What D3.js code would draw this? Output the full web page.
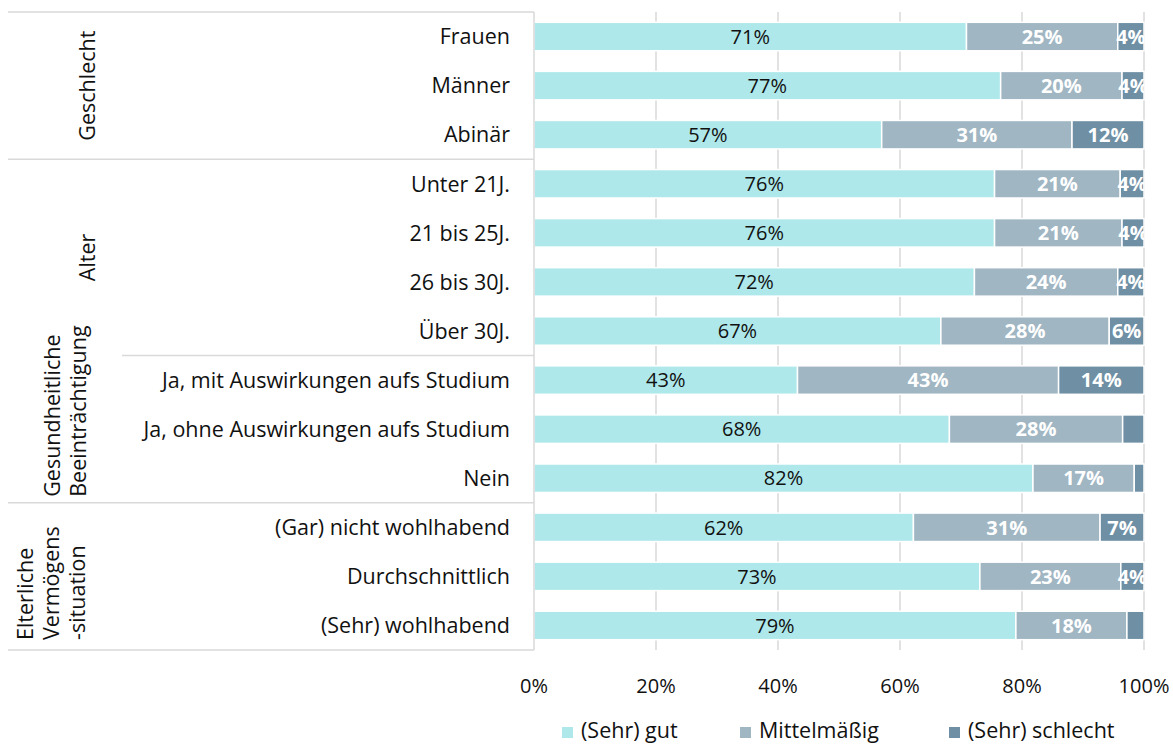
<!DOCTYPE html>
<html>
<head>
<meta charset="utf-8">
<script src="https://cdn.jsdelivr.net/npm/d3@7"></script>
<style>
  body { margin: 0; background: #fff; }
  svg { font-family: "Open Sans", Lato, sans-serif; }
</style>
</head>
<body>
<div id="chart"></div>
<script>
// categories, top to bottom
var categories = ["Frauen", "Männer", "Abinär",
  "Unter 21J.", "21 bis 25J.", "26 bis 30J.", "Über 30J.",
  "Ja, mit Auswirkungen aufs Studium", "Ja, ohne Auswirkungen aufs Studium", "Nein",
  "(Gar) nicht wohlhabend", "Durchschnittlich", "(Sehr) wohlhabend"];

// shares in percent
var gut      = [70.9, 76.5, 57.0, 75.5, 75.5, 72.2, 66.7, 43.2, 68.1, 81.8, 62.2, 73.1, 79.0];
var mittel   = [24.8, 19.9, 31.2, 20.6, 20.9, 23.5, 27.6, 42.8, 28.4, 16.6, 30.6, 23.1, 18.2];
var schlecht = [ 4.3,  3.6, 11.8,  3.9,  3.6,  4.3,  5.7, 14.0,  3.5,  1.6,  7.2,  3.8,  2.8];
// data label of the last segment is left out for some rows in the original
var schlechtLabel = [1, 1, 1, 1, 1, 1, 1, 1, 0, 0, 1, 1, 0];

var seriesNames = ["(Sehr) gut", "Mittelmäßig", "(Sehr) schlecht"];
var colors = ["#aee8ea", "#a0b6c3", "#6e8fa4"];

var groupNames = [["Geschlecht"], ["Alter"], ["Gesundheitliche", "Beeinträchtigung"], ["Elterliche", "Vermögens", "-situation"]];
var groupSizes = [3, 4, 3, 3];

var xTicks = [0, 20, 40, 60, 80, 100];

var width = 1173, height = 744;
var catSize = 21.5, labSize = 20, tickSize = 20, legSize = 21.5;
var textColor = "#111";
var svg = d3.select("#chart").append("svg")
  .attr("width", width).attr("height", height);

var x = d3.scaleLinear().domain([0, 100]).range([534, 1144]);
var y = d3.scaleBand().domain(categories).range([12, 650])
  .paddingInner(0.42).paddingOuter(0.21);

var gridColor = "#d9d9d9";

// gridlines
svg.append("g").selectAll("line")
  .data(xTicks.slice(1))
  .enter().append("line")
  .attr("x1", d => x(d)).attr("x2", d => x(d))
  .attr("y1", 12).attr("y2", 650)
  .attr("stroke", gridColor).attr("stroke-width", 1.5);

// stacked data
var rows = categories.map(function (c, i) {
  return { cat: c, gut: gut[i], mittel: mittel[i], schlecht: schlecht[i], showS: schlechtLabel[i] };
});
var stack = d3.stack().keys(["gut", "mittel", "schlecht"])(rows);

svg.append("clipPath").attr("id", "plotclip")
  .append("rect").attr("x", 534).attr("y", 0).attr("width", 610).attr("height", 660);

var layers = svg.append("g").selectAll("g")
  .data(stack)
  .enter().append("g")
  .attr("fill", (d, i) => colors[i]);

layers.selectAll("rect")
  .data(d => d)
  .enter().append("rect")
  .attr("x", d => x(d[0]))
  .attr("y", d => y(d.data.cat))
  .attr("width", d => x(d[1]) - x(d[0]))
  .attr("height", y.bandwidth())
  .attr("stroke", "#fff")
  .attr("stroke-width", 1.5);

// data labels
var labels = svg.append("g").attr("clip-path", "url(#plotclip)");
stack.forEach(function (layer, li) {
  labels.selectAll(".lab" + li)
    .data(layer.filter(d => li < 2 || d.data.showS))
    .enter().append("text")
    .attr("class", "lab" + li)
    .attr("x", d => (x(d[0]) + x(d[1])) / 2)
    .attr("y", d => y(d.data.cat) + y.bandwidth() / 2)
    .attr("dy", "0.36em")
    .attr("text-anchor", "middle")
    .attr("font-size", labSize)
    .attr("font-weight", li === 0 ? "normal" : "bold")
    .attr("fill", li === 0 ? textColor : "#fff")
    .text(d => Math.round(d[1] - d[0]) + "%");
});

// category axis line
svg.append("line")
  .attr("x1", 534).attr("x2", 534).attr("y1", 12).attr("y2", 650)
  .attr("stroke", gridColor).attr("stroke-width", 1.5);

// category labels
svg.append("g").selectAll("text")
  .data(categories)
  .enter().append("text")
  .attr("x", 510)
  .attr("y", d => y(d) + y.bandwidth() / 2)
  .attr("dy", "0.36em")
  .attr("text-anchor", "end")
  .attr("font-size", catSize)
  .attr("fill", textColor)
  .text(d => d);

// group separators and group labels
var step = y.step();
var bounds = [12];
var idx = 0;
groupSizes.forEach(function (n) {
  idx += n;
  bounds.push(idx === categories.length ? 650 : y(categories[idx]) - step * y.paddingInner() / 2);
});
svg.append("g").selectAll("line")
  .data(bounds)
  .enter().append("line")
  .attr("x1", (d, i) => i === 2 ? 122 : 8)
  .attr("x2", 534)
  .attr("y1", d => d).attr("y2", d => d)
  .attr("stroke", gridColor).attr("stroke-width", 1.5);

groupNames.forEach(function (lines, gi) {
  var top = bounds[gi], bottom = bounds[gi + 1];
  var g = svg.append("g");
  if (lines.length === 1) {
    g.append("text")
      .attr("transform", "translate(95," + ((top + bottom) / 2) + ") rotate(-90)")
      .attr("text-anchor", "middle")
      .attr("font-size", catSize).attr("fill", textColor)
      .text(lines[0]);
  } else {
    var base = lines.length === 2 ? 60 : 33;
    lines.forEach(function (t, li) {
      g.append("text")
        .attr("transform", "translate(" + (base + li * 26) + "," + (bottom - (lines.length === 2 ? 6 : 10)) + ") rotate(-90)")
        .attr("text-anchor", "start")
        .attr("font-size", catSize).attr("fill", textColor)
        .text(t);
    });
  }
});

// x axis labels
svg.append("g").selectAll("text")
  .data(xTicks)
  .enter().append("text")
  .attr("x", d => x(d))
  .attr("y", 693)
  .attr("text-anchor", "middle")
  .attr("font-size", tickSize)
  .attr("fill", textColor)
  .text(d => d + "%");

// legend
var legendX = [562, 740, 949];
var legend = svg.append("g").selectAll("g")
  .data(seriesNames)
  .enter().append("g")
  .attr("transform", (d, i) => "translate(" + legendX[i] + ",727)");
legend.append("rect")
  .attr("width", 11).attr("height", 11)
  .attr("fill", (d, i) => colors[i]);
legend.append("text")
  .attr("x", 19).attr("y", 11)
  .attr("font-size", legSize).attr("fill", textColor)
  .text(d => d);
</script>
</body>
</html>
